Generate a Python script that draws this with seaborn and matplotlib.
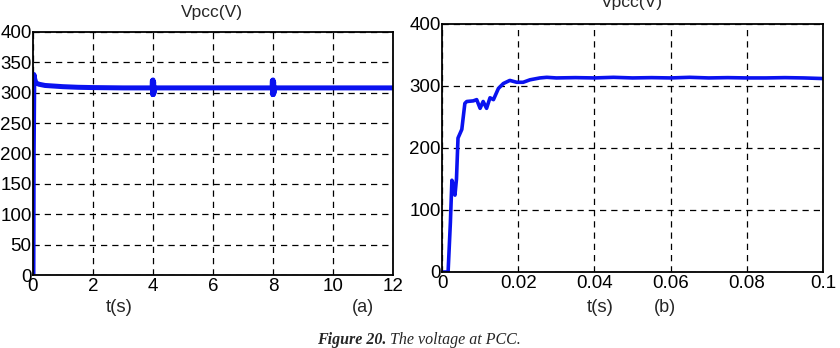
import matplotlib
matplotlib.use("Agg")
import matplotlib.pyplot as plt
import seaborn as sns
import pandas as pd

# (a) Vpcc over 0..12 s
t_a = [0, 0.01, 0.03, 0.06, 0.1, 0.2, 0.4, 0.7, 1.0, 1.5, 2.0, 3.0, 3.97,
       3.98, 3.99, 4.0, 4.01, 4.02, 4.03, 4.05, 5.0, 6.0, 7.0, 7.97,
       7.98, 7.99, 8.0, 8.01, 8.02, 8.03, 8.05, 9.0, 10.0, 11.0, 12.0]
v_a = [0, 200, 330, 322, 316, 314, 312, 311, 310, 309, 308.5, 308, 308,
       320, 297, 321, 297, 318, 299, 308, 308, 308, 308, 308,
       320, 297, 321, 297, 318, 299, 308, 308, 308, 308, 308]

# (b) Vpcc over 0..0.1 s (zoom on start-up)
t_b = [0, 0.0016, 0.0022, 0.0026, 0.0030, 0.0034, 0.0038, 0.0042, 0.0052,
       0.0060, 0.0065, 0.0082, 0.0091, 0.0100, 0.0108, 0.0117, 0.0126,
       0.0135, 0.0148, 0.0161, 0.0178, 0.0196, 0.0213, 0.0231, 0.0257,
       0.0275, 0.030, 0.035, 0.040, 0.045, 0.050, 0.055, 0.060, 0.065,
       0.070, 0.075, 0.080, 0.085, 0.090, 0.095, 0.100]
v_b = [0, 0, 80, 148, 140, 124, 150, 216, 230,
       272, 275, 276, 278, 264, 275, 264, 281,
       278, 296, 304, 309, 306, 306, 310, 313,
       314, 313, 313.5, 313, 314, 313, 313.5, 313, 314,
       313, 313.5, 313, 313, 313.5, 313, 312]

df_a = pd.DataFrame({"t": t_a, "v": v_a})
df_b = pd.DataFrame({"t": t_b, "v": v_b})

sns.set_style("white")
plt.rcParams["font.family"] = ["Liberation Sans", "DejaVu Sans"]

W, H = 840, 348
fig = plt.figure(figsize=(W / 100, H / 100), dpi=100)

def px_axes(x0, y0, x1, y1):
    return fig.add_axes([x0 / W, 1 - y1 / H, (x1 - x0) / W, (y1 - y0) / H])

ax1 = px_axes(33, 32, 393, 275)
ax2 = px_axes(442, 24, 823, 272)

blue = "#0a12f0"
sns.lineplot(data=df_a, x="t", y="v", ax=ax1, color=blue, lw=3.6,
             estimator=None, sort=False)
sns.lineplot(data=df_b, x="t", y="v", ax=ax2, color=blue, lw=2.6,
             estimator=None, sort=False)

ax1.set_xlim(0, 12)
ax1.set_ylim(0, 400)
ax1.set_xticks(range(0, 13, 2))
ax1.set_yticks(range(0, 401, 50))

ax2.set_xlim(0, 0.1)
ax2.set_ylim(0, 400)
ax2.set_xticks([0, 0.02, 0.04, 0.06, 0.08, 0.1])
ax2.set_xticklabels(["0", "0.02", "0.04", "0.06", "0.08", "0.1"])
ax2.set_yticks(range(0, 401, 100))

for ax in (ax1, ax2):
    ax.set_xlabel("")
    ax.set_ylabel("")
    ax.grid(True, color="black", ls=(0, (5, 4)), lw=0.9)
    for s in ax.spines.values():
        s.set_color("black")
        s.set_linewidth(1.3)
    ax.tick_params(direction="in", length=0, pad=1, labelsize=13.5,
                   colors="black")
    ax.tick_params(axis="x", pad=2)

fig.text(212 / W, 1 - 17 / H, "Vpcc(V)", ha="center", va="baseline", fontsize=12.5)
fig.text(632 / W, 1 - 7 / H, "Vpcc(V)", ha="center", va="baseline", fontsize=12.5)
fig.text(119 / W, 1 - 307 / H, "t(s)", ha="center", va="center", fontsize=13.5)
fig.text(363 / W, 1 - 307 / H, "(a)", ha="center", va="center", fontsize=13)
fig.text(600 / W, 1 - 307 / H, "t(s)", ha="center", va="center", fontsize=13.5)
fig.text(665 / W, 1 - 307 / H, "(b)", ha="center", va="center", fontsize=13)

cap1 = fig.text(317 / W, 1 - 340 / H, "Figure 20.", ha="left", va="center",
                fontsize=11.5, family=["Liberation Serif"], style="italic",
                weight="bold")
fig.canvas.draw()
bb = cap1.get_window_extent()
fig.text(bb.x1 / W, 1 - 340 / H, " The voltage at PCC.", ha="left",
         va="center", fontsize=11.5, family=["Liberation Serif"], style="italic")

fig.savefig("out.png", dpi=100)
